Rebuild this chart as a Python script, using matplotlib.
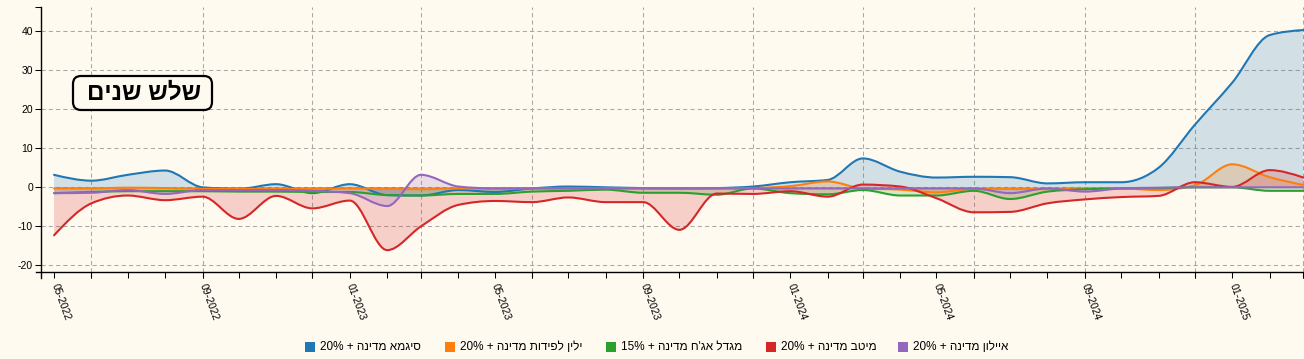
import re
import numpy as np
import pandas as pd
import matplotlib
matplotlib.use("Agg")
import matplotlib.pyplot as plt
import matplotlib.dates as mdates
from matplotlib.path import Path
from matplotlib.patches import PathPatch, FancyBboxPatch, Rectangle
from matplotlib.transforms import IdentityTransform
from matplotlib.ticker import FixedLocator

# === Daten (monatlich, 05-2022 .. 03-2025)
months = pd.date_range("2022-05-01", "2025-03-01", freq="MS")

sigma = [3.2, 1.7, 3.2, 4.3, 0.0, -0.4, 0.8, -1.5, 0.8, -2.0, -2.1, -0.7,
         -1.2, -0.3, 0.2, 0.0, -0.2, -0.3, -0.2, 0.2, 1.3, 1.9, 7.4, 4.0,
         2.5, 2.7, 2.6, 1.0, 1.3, 1.3, 5.0, 16.0, 26.8, 39.0, 40.3]
yelin = [-0.3, -0.3, -0.1, -0.2, -0.4, -0.4, -0.4, -0.4, -0.3, -0.4, -0.5, -0.3,
         -0.3, -0.3, -0.3, -0.3, -0.3, -0.3, -0.3, -0.2, 0.3, 1.5, -0.3, -0.6,
         -1.3, -0.4, -0.4, -0.5, -0.3, -0.3, -0.7, 0.5, 5.9, 2.6, 0.6]
migdal = [-1.5, -1.2, -1.0, -1.0, -1.0, -1.1, -1.1, -1.2, -1.2, -2.0, -2.1, -1.7,
          -1.7, -1.1, -0.9, -0.6, -1.4, -1.4, -1.9, -0.3, -1.5, -1.8, -0.7, -2.1,
          -2.1, -0.9, -3.0, -1.1, -0.5, -0.3, -0.2, 0.0, 0.0, -0.9, -0.9]
meitav = [-12.3, -4.1, -2.1, -3.3, -2.4, -8.1, -2.2, -5.4, -3.4, -16.1, -10.0, -4.5,
          -3.5, -3.8, -2.6, -3.8, -3.8, -10.9, -1.6, -1.7, -1.0, -2.4, 0.7, 0.2,
          -2.8, -6.4, -6.3, -4.1, -3.1, -2.5, -2.2, 1.3, 0.1, 4.4, 2.5]
ayalon = [-1.5, -1.4, -0.7, -1.7, -0.7, -0.7, -0.7, -0.9, -1.5, -4.8, 3.2, 0.2,
          -0.3, -0.3, -0.3, -0.3, -0.3, -0.3, -0.3, -0.3, -0.3, -0.3, -0.3, -0.3,
          -0.3, -0.3, -1.5, -0.3, -1.1, -0.3, -0.1, 0.0, 0.0, 0.0, 0.0]

names = ["סיגמא מדינה + 20%", "ילין לפידות מדינה + 20%", "מגדל אג'ח מדינה + 15%",
         "מיטב מדינה + 20%", "איילון מדינה + 20%"]
x_labels = ["05-2022", "09-2022", "01-2023", "05-2023", "09-2023",
            "01-2024", "05-2024", "09-2024", "01-2025"]
y_ticks = [-20, -10, 0, 10, 20, 30, 40]
title = "שלש שנים"

# === Stil
BG = "#fffaf0"
GRID = "#a8a8a8"
colors = ["#1f77b4", "#ff7f0e", "#2ca02c", "#d62728", "#9467bd"]
W, H = 1304, 359
FONT = ["Liberation Sans", "DejaVu Sans"]
plt.rcParams["font.family"] = FONT
plt.rcParams["axes.unicode_minus"] = False


def visual(s):
    # Hebraeisch fuer matplotlib in visuelle Reihenfolge bringen
    r = s[::-1]
    return re.sub(r"[0-9A-Za-z%.]+", lambda m: m.group(0)[::-1], r)


def monotone(x, y):
    # wie d3.curveMonotoneX, als Bezier-Pfad
    x = np.asarray(x, float)
    y = np.asarray(y, float)
    n = len(x)
    h = np.diff(x)
    s = np.diff(y) / h
    t = np.zeros(n)
    for i in range(1, n - 1):
        p = (s[i - 1] * h[i] + s[i] * h[i - 1]) / (h[i - 1] + h[i])
        t[i] = (np.sign(s[i - 1]) + np.sign(s[i])) * min(abs(s[i - 1]), abs(s[i]), 0.5 * abs(p))
    t[0] = (3 * s[0] - t[1]) / 2
    t[-1] = (3 * s[-1] - t[-2]) / 2
    verts = [(x[0], y[0])]
    codes = [Path.MOVETO]
    for i in range(n - 1):
        d = h[i] / 3
        verts += [(x[i] + d, y[i] + d * t[i]), (x[i + 1] - d, y[i + 1] - d * t[i + 1]), (x[i + 1], y[i + 1])]
        codes += [Path.CURVE4] * 3
    return verts, codes


# === Plot
fig = plt.figure(figsize=(W / 100, H / 100), dpi=100, facecolor=BG)
ax_l, ax_r, ax_t, ax_b = 41.5, 1304, 7, 272
ax = fig.add_axes([ax_l / W, 1 - ax_b / H, (ax_r - ax_l) / W, (ax_b - ax_t) / H])
ax.set_facecolor(BG)

xd = mdates.date2num(months)
x0 = mdates.date2num(pd.Timestamp("2022-05-01")) - 10.4
x1 = mdates.date2num(pd.Timestamp("2025-03-01")) + 0.5
ylo, yhi = -21.7, 46.2
ax.set_xlim(x0, x1)
ax.set_ylim(ylo, yhi)

series = [sigma, yelin, migdal, meitav, ayalon]
for vals, c in zip(series, colors):
    v, cd = monotone(xd, vals)
    fv = v + [(xd[-1], 0), (xd[0], 0), (xd[0], 0)]
    fc = cd + [Path.LINETO, Path.LINETO, Path.CLOSEPOLY]
    ax.add_patch(PathPatch(Path(fv, fc), facecolor=c, alpha=0.2, edgecolor="none", zorder=2))
for vals, c in zip(series, colors):
    v, cd = monotone(xd, vals)
    ax.add_patch(PathPatch(Path(v, cd), facecolor="none", edgecolor=c, lw=1.5, zorder=3,
                           joinstyle="round", capstyle="round"))

# === Achsen
for sp in ["top", "right"]:
    ax.spines[sp].set_visible(False)
for sp in ["left", "bottom"]:
    ax.spines[sp].set_color("black")
    ax.spines[sp].set_linewidth(1)
px_x = (x1 - x0) / (ax_r - ax_l)
px_y = (yhi - ylo) / (ax_b - ax_t)
ax.spines["left"].set_bounds(ylo - 6 * px_y, yhi)
ax.spines["bottom"].set_bounds(x0 - 6 * px_x, x1)

ax.set_yticks(y_ticks)
ax.yaxis.set_minor_locator(FixedLocator([yhi]))
ax.set_xticks(xd)
lab_map = {mdates.date2num(pd.to_datetime(l, format="%m-%Y")): l for l in x_labels}
ax.set_xticklabels([lab_map.get(x, "") for x in xd])
ax.xaxis.set_minor_locator(mdates.MonthLocator(bymonth=(3, 6, 9, 12)))
ax.xaxis.remove_overlapping_locs = False
ax.tick_params(axis="both", which="both", length=4.3, width=0.75, color="black",
               direction="out")
ax.tick_params(axis="y", labelsize=7.5, pad=1.8)
ax.tick_params(axis="x", labelsize=7.5, pad=4)
for lab in ax.get_xticklabels():
    lab.set_rotation(-70)
    lab.set_rotation_mode("anchor")
    lab.set_ha("left")
    lab.set_va("center")

ax.grid(True, which="major", axis="y", color=GRID, ls=(0, (4, 3)), lw=0.75, zorder=0)
ax.grid(True, which="minor", axis="x", color=GRID, ls=(0, (4, 3)), lw=0.75, zorder=0)
ax.set_axisbelow(True)

# === Titel-Box
box = FancyBboxPatch((73, H - 110), 139, 34, boxstyle="round,pad=0,rounding_size=8",
                     transform=IdentityTransform(), facecolor=BG, edgecolor="black", lw=1.6)
fig.patches.append(box)
fig.text(144 / W, 1 - 93 / H, visual(title), ha="center", va="center",
         fontsize=17.5, fontweight="bold", family=FONT)

# === Legende
leg_x = [305, 445, 606, 766, 898]
leg_y = 347
for lx, c, name in zip(leg_x, colors, names):
    fig.patches.append(Rectangle((lx, H - leg_y - 5), 10, 10, transform=IdentityTransform(),
                                 facecolor=c, edgecolor="none"))
    fig.text((lx + 15) / W, 1 - leg_y / H, visual(name), ha="left", va="center",
             fontsize=8.5, family=FONT)

plt.savefig("out.png", dpi=100, facecolor=BG)
plt.close()
